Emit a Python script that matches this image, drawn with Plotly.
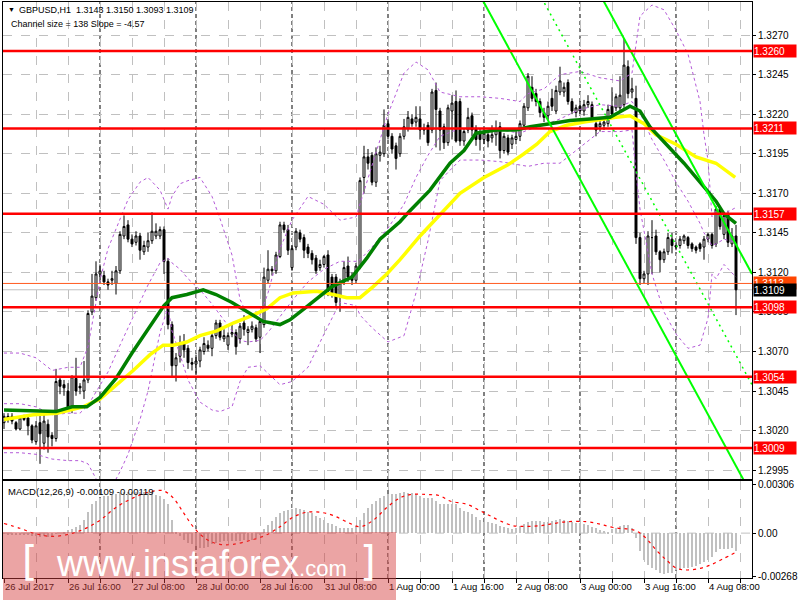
import plotly.graph_objects as go

# ---------------- DATA ----------------
opens = [1.3025,1.3029,1.3029,1.3025,1.3021,1.3029,1.3028,1.3023,1.3013,1.3025,
1.3012,1.3024,1.3017,1.3015,1.3052,1.3049,1.3045,1.3033,1.3053,1.3048,
1.3045,1.3052,1.3095,1.3104,1.3119,1.3118,1.3114,1.3115,1.3113,1.3121,
1.3143,1.3150,1.3141,1.3139,1.3143,1.3133,1.3136,1.3140,1.3143,1.3143,
1.3147,1.3127,1.3087,1.3061,1.3067,1.3075,1.3072,1.3063,1.3062,1.3064,
1.3070,1.3074,1.3072,1.3080,1.3088,1.3078,1.3074,1.3081,1.3082,1.3078,
1.3088,1.3082,1.3084,1.3085,1.3079,1.3087,1.3115,1.3122,1.3121,1.3130,
1.3150,1.3147,1.3123,1.3136,1.3145,1.3142,1.3136,1.3132,1.3129,1.3123,
1.3125,1.3131,1.3117,1.3117,1.3105,1.3114,1.3124,1.3118,1.3115,1.3124,
1.3180,1.3193,1.3194,1.3177,1.3194,1.3195,1.3214,1.3206,1.3200,1.3195,
1.3206,1.3211,1.3217,1.3215,1.3217,1.3211,1.3213,1.3210,1.3235,1.3222,
1.3212,1.3202,1.3222,1.3228,1.3228,1.3203,1.3210,1.3219,1.3211,1.3209,
1.3204,1.3207,1.3205,1.3207,1.3212,1.3197,1.3205,1.3201,1.3204,1.3206,
1.3213,1.3224,1.3237,1.3233,1.3228,1.3221,1.3219,1.3230,1.3222,1.3234,
1.3234,1.3240,1.3228,1.3221,1.3225,1.3222,1.3226,1.3226,1.3214,1.3212,
1.3213,1.3214,1.3225,1.3224,1.3224,1.3226,1.3250,1.3234,1.3230,1.3142,
1.3116,1.3119,1.3142,1.3143,1.3133,1.3128,1.3133,1.3141,1.3137,1.3137,
1.3140,1.3142,1.3138,1.3136,1.3138,1.3136,1.3141,1.3144,1.3138,1.3160,
1.3144,1.3157,1.3138,1.3143]
highs = [1.3031,1.3031,1.3031,1.3026,1.3029,1.3030,1.3029,1.3024,1.3026,1.3030,
1.3031,1.3027,1.3019,1.3059,1.3054,1.3052,1.3050,1.3055,1.3066,1.3050,
1.3064,1.3096,1.3119,1.3127,1.3125,1.3121,1.3116,1.3121,1.3124,1.3146,
1.3156,1.3153,1.3144,1.3146,1.3145,1.3140,1.3145,1.3158,1.3151,1.3149,
1.3149,1.3129,1.3089,1.3069,1.3080,1.3081,1.3074,1.3066,1.3068,1.3073,
1.3079,1.3077,1.3082,1.3090,1.3090,1.3084,1.3082,1.3087,1.3084,1.3088,
1.3093,1.3086,1.3089,1.3087,1.3091,1.3123,1.3134,1.3124,1.3133,1.3152,
1.3152,1.3150,1.3137,1.3148,1.3147,1.3144,1.3138,1.3134,1.3131,1.3128,
1.3131,1.3134,1.3119,1.3119,1.3116,1.3127,1.3130,1.3120,1.3126,1.3180,
1.3200,1.3198,1.3196,1.3199,1.3200,1.3223,1.3216,1.3208,1.3202,1.3208,
1.3217,1.3222,1.3220,1.3225,1.3225,1.3214,1.3215,1.3236,1.3240,1.3224,
1.3214,1.3226,1.3232,1.3235,1.3230,1.3211,1.3224,1.3221,1.3213,1.3211,
1.3211,1.3209,1.3213,1.3216,1.3215,1.3208,1.3207,1.3207,1.3209,1.3216,
1.3227,1.3246,1.3244,1.3236,1.3230,1.3224,1.3228,1.3236,1.3238,1.3250,
1.3240,1.3242,1.3230,1.3226,1.3228,1.3229,1.3232,1.3228,1.3216,1.3217,
1.3218,1.3226,1.3237,1.3233,1.3244,1.3268,1.3254,1.3243,1.3238,1.3145,
1.3121,1.3146,1.3153,1.3147,1.3134,1.3135,1.3145,1.3145,1.3139,1.3143,
1.3144,1.3143,1.3139,1.3137,1.3139,1.3143,1.3145,1.3145,1.3162,1.3162,
1.3158,1.3159,1.3148,1.3150]
lows = [1.3021,1.3025,1.3024,1.3020,1.3020,1.3026,1.3017,1.3012,1.3011,1.2999,
1.3008,1.3006,1.3010,1.3013,1.3043,1.3042,1.3033,1.3031,1.3042,1.3043,
1.3040,1.3050,1.3093,1.3102,1.3115,1.3112,1.3109,1.3112,1.3106,1.3119,
1.3141,1.3139,1.3136,1.3137,1.3128,1.3131,1.3133,1.3138,1.3141,1.3141,
1.3119,1.3084,1.3054,1.3051,1.3063,1.3066,1.3059,1.3058,1.3056,1.3060,
1.3068,1.3070,1.3067,1.3078,1.3077,1.3076,1.3071,1.3079,1.3068,1.3075,
1.3080,1.3074,1.3082,1.3076,1.3069,1.3085,1.3113,1.3118,1.3119,1.3129,
1.3145,1.3131,1.3121,1.3134,1.3139,1.3129,1.3129,1.3125,1.3119,1.3121,
1.3123,1.3105,1.3104,1.3098,1.3095,1.3112,1.3114,1.3112,1.3113,1.3122,
1.3170,1.3185,1.3175,1.3174,1.3190,1.3193,1.3204,1.3195,1.3185,1.3193,
1.3204,1.3209,1.3212,1.3212,1.3204,1.3207,1.3200,1.3208,1.3199,1.3197,
1.3198,1.3200,1.3204,1.3202,1.3200,1.3200,1.3208,1.3206,1.3200,1.3197,
1.3201,1.3199,1.3202,1.3200,1.3192,1.3195,1.3194,1.3198,1.3201,1.3203,
1.3211,1.3222,1.3228,1.3225,1.3218,1.3215,1.3216,1.3222,1.3220,1.3232,
1.3231,1.3226,1.3220,1.3218,1.3220,1.3219,1.3224,1.3215,1.3206,1.3209,
1.3210,1.3212,1.3218,1.3222,1.3222,1.3224,1.3230,1.3230,1.3138,1.3112,
1.3113,1.3112,1.3119,1.3131,1.3120,1.3126,1.3131,1.3132,1.3134,1.3135,
1.3138,1.3135,1.3133,1.3132,1.3133,1.3128,1.3139,1.3135,1.3136,1.3147,
1.3141,1.3136,1.3136,1.3093]
closes = [1.3029,1.3027,1.3026,1.3021,1.3028,1.3027,1.3023,1.3014,1.3023,1.3018,
1.3026,1.3016,1.3015,1.3051,1.3048,1.3047,1.3035,1.3054,1.3045,1.3047,
1.3052,1.3094,1.3105,1.3119,1.3121,1.3114,1.3112,1.3116,1.3121,1.3144,
1.3149,1.3141,1.3138,1.3143,1.3134,1.3137,1.3140,1.3146,1.3146,1.3147,
1.3127,1.3087,1.3061,1.3066,1.3075,1.3071,1.3063,1.3062,1.3064,1.3071,
1.3075,1.3072,1.3080,1.3088,1.3079,1.3080,1.3080,1.3082,1.3073,1.3086,
1.3084,1.3084,1.3086,1.3078,1.3089,1.3117,1.3122,1.3121,1.3131,1.3150,
1.3147,1.3134,1.3135,1.3146,1.3141,1.3134,1.3132,1.3128,1.3121,1.3125,
1.3130,1.3108,1.3107,1.3101,1.3114,1.3123,1.3117,1.3115,1.3124,1.3178,
1.3193,1.3189,1.3177,1.3195,1.3196,1.3213,1.3206,1.3198,1.3192,1.3206,
1.3212,1.3218,1.3214,1.3218,1.3210,1.3210,1.3202,1.3234,1.3223,1.3210,
1.3202,1.3224,1.3227,1.3203,1.3203,1.3209,1.3218,1.3210,1.3204,1.3204,
1.3208,1.3203,1.3207,1.3210,1.3197,1.3206,1.3196,1.3205,1.3206,1.3214,
1.3225,1.3244,1.3230,1.3228,1.3221,1.3218,1.3225,1.3225,1.3235,1.3241,
1.3237,1.3228,1.3222,1.3224,1.3222,1.3226,1.3228,1.3218,1.3210,1.3214,
1.3215,1.3223,1.3220,1.3231,1.3232,1.3251,1.3233,1.3236,1.3142,1.3116,
1.3119,1.3143,1.3142,1.3133,1.3128,1.3133,1.3142,1.3137,1.3136,1.3141,
1.3143,1.3137,1.3135,1.3134,1.3135,1.3141,1.3144,1.3137,1.3160,1.3149,
1.3156,1.3139,1.3143,1.3109]

# moving averages (bar index, price)
ma_green_x = [0,10,13,17,20.7,24,28,32,36.5,40,42,45.7,49.8,53,57,60.7,64.8,69,71.5,75,79,82,87,90.7,94,99,
              101.5,106.5,111.5,115,118,123,128,131.5,136.5,141.5,146.5,151.5,156.5,159,161.5,165.7,170,175,178,180,183]
ma_green_y = [1.3033,1.3032,1.3032,1.3035,1.3035,1.3041,1.3053,1.3069,1.3086,1.3099,1.3104,1.3106,1.3109,1.3106,1.3101,
              1.3095,1.3089,1.3087,1.3090,1.3097,1.3105,1.3111,1.3117,1.3129,1.3141,1.3152,
              1.3159,1.3172,1.3189,1.3197,1.3208,1.3210,1.3210,1.3212,1.3214,1.3216,1.3217,1.3218,1.3225,1.3222,
              1.3212,1.3201,1.3189,1.3174,1.3165,1.3157,1.3151]
ma_yellow_x = [0,7.3,13.2,19.8,24,28.2,32.3,36.5,39.8,42.3,45.7,49,53.2,57.3,62.3,65.7,69,72.3,78.2,82.3,85.7,89,
               92.3,95.7,99,104,110,114,120,126,130,133.2,136.5,140.7,145,150,153,156.5,160,163,168,173,178,182.8]
ma_yellow_y = [1.3027,1.3030,1.3031,1.3035,1.3040,1.3049,1.3058,1.3068,1.3074,1.3074,1.3076,1.3080,1.3083,1.3088,
               1.3093,1.3097,1.3104,1.3107,1.3108,1.3106,1.3104,1.3104,1.3111,1.3119,1.3128,1.3143,1.3159,1.3170,
               1.3180,1.3188,1.3195,1.3201,1.3209,1.3213,1.3215,1.3217,1.3218,1.3219,1.3214,1.3207,1.3201,1.3193,
               1.3189,1.3180]

# Bollinger bands (bar index, upper / middle / lower)
bb_x = [0,4,8,12,16,19,21,24,26,29,31,34,36,39,41,42,44,46,49,52,54,57,59,61,64,66,69,72,76,80,84,88,89,92,96,
        100,103,106,109,114,119,124,129,131,135,139,144,149,154,157,158,159,162,165,168,171,174,175,176,177,178,180,183]
bb_upper = [1.3069,1.3069,1.3066,1.3058,1.3060,1.3060,1.3073,1.3115,1.3135,1.3154,1.3166,1.3177,1.3180,1.3172,1.3160,
            1.3168,1.3176,1.3178,1.3180,1.3168,1.3154,1.3131,1.3103,1.3092,1.3093,1.3107,1.3135,1.3153,1.3168,1.3163,
            1.3153,1.3155,1.3163,1.3187,1.3220,1.3246,1.3253,1.3248,1.3234,1.3231,1.3231,1.3230,1.3228,1.3233,1.3236,
            1.3245,1.3247,1.3243,1.3241,1.3246,1.3265,1.3282,1.3289,1.3286,1.3273,1.3258,1.3228,1.3207,1.3191,1.3155,
            1.3160,1.3157,1.3161]
bb_mid = [1.3037,1.3037,1.3035,1.3030,1.3031,1.3031,1.3036,1.3049,1.3057,1.3074,1.3085,1.3102,1.3112,1.3126,1.3129,
          1.3126,1.3122,1.3116,1.3109,1.3100,1.3093,1.3083,1.3077,1.3076,1.3077,1.3082,1.3092,1.3102,1.3114,1.3122,
          1.3127,1.3127,1.3128,1.3136,1.3148,1.3163,1.3180,1.3194,1.3206,1.3211,1.3211,1.3210,1.3208,1.3210,1.3213,
          1.3217,1.3223,1.3226,1.3225,1.3228,1.3224,1.3221,1.3204,1.3191,1.3177,1.3165,1.3151,1.3145,1.3141,1.3137,
          1.3138,1.3141,1.3139]
bb_lower = [1.3006,1.3006,1.3005,1.3002,1.3001,1.3001,1.2999,1.2985,1.2980,1.2994,1.3005,1.3027,1.3045,1.3082,1.3098,
            1.3083,1.3068,1.3052,1.3038,1.3033,1.3032,1.3035,1.3051,1.3060,1.3061,1.3056,1.3049,1.3051,1.3060,1.3081,
            1.3101,1.3099,1.3093,1.3085,1.3076,1.3080,1.3107,1.3140,1.3178,1.3191,1.3191,1.3190,1.3188,1.3187,1.3189,
            1.3189,1.3199,1.3209,1.3209,1.3210,1.3183,1.3160,1.3119,1.3095,1.3081,1.3072,1.3074,1.3083,1.3091,1.3119,
            1.3116,1.3125,1.3117]

# regression channel (bar index, price)
chan_x = [100, 187]
chan_lower = [1.33835, 1.29790]
chan_mid = [1.34535, 1.30490]
chan_upper = [1.35235, 1.31190]

levels = [1.3260, 1.3211, 1.3157, 1.3098, 1.3054, 1.3009]
ask_level = 1.3113
bid_level = 1.3109

macd_hist = [-0.00005,-0.00006,-0.00006,-0.00008,-0.00007,-0.00008,-0.00010,-0.00015,-0.00018,-0.00022,
-0.00020,-0.00024,-0.00025,-0.00004,0.00000,0.00003,0.00020,0.00024,0.00036,0.00050,
0.00080,0.00130,0.00180,0.00200,0.00220,0.00230,0.00231,0.00240,0.00244,0.00250,
0.00255,0.00256,0.00257,0.00257,0.00256,0.00256,0.00255,0.00255,0.00240,0.00230,
0.00210,0.00180,0.00080,0.00010,-0.00020,-0.00040,-0.00060,-0.00070,-0.00080,-0.00090,
-0.00090,-0.00086,-0.00070,-0.00060,-0.00058,-0.00050,-0.00050,-0.00049,-0.00048,-0.00047,
-0.00046,-0.00046,-0.00045,-0.00030,-0.00010,0.00025,0.00050,0.00077,0.00100,0.00127,
0.00140,0.00144,0.00148,0.00154,0.00150,0.00144,0.00133,0.00123,0.00106,0.00092,
0.00081,0.00065,0.00054,0.00044,0.00035,0.00033,0.00029,0.00029,0.00044,0.00081,
0.00123,0.00154,0.00181,0.00200,0.00216,0.00230,0.00243,0.00243,0.00243,0.00250,
0.00254,0.00250,0.00250,0.00243,0.00233,0.00222,0.00222,0.00216,0.00202,0.00180,
0.00180,0.00180,0.00180,0.00180,0.00154,0.00140,0.00129,0.00119,0.00098,0.00083,
0.00071,0.00067,0.00060,0.00056,0.00042,0.00036,0.00030,0.00025,0.00030,0.00042,
0.00056,0.00071,0.00075,0.00075,0.00075,0.00067,0.00071,0.00077,0.00081,0.00087,
0.00081,0.00075,0.00067,0.00064,0.00060,0.00056,0.00052,0.00037,0.00030,0.00020,
0.00015,0.00010,0.00025,0.00030,0.00042,0.00050,0.00050,0.00030,-0.00028,-0.00110,
-0.00170,-0.00200,-0.00220,-0.00230,-0.00250,-0.00252,-0.00250,-0.00250,-0.00230,-0.00225,
-0.00220,-0.00215,-0.00210,-0.00205,-0.00190,-0.00180,-0.00170,-0.00150,-0.00120,-0.00100,
-0.00100,-0.00100,-0.00090,-0.00109]
signal_x = [0,4,7.3,11.5,15.7,19.8,24,28,32.3,36.5,39.8,42.3,44.8,47.3,50.7,54,57.3,62.3,65.7,69,72.3,75.7,79,
            82.3,85.7,89,92.3,95.7,99,101.5,106.5,109,111.5,115.7,119,121.5,124,127.3,130.7,134,136.5,140.7,
            145.7,149,152.3,157.3,159,160.7,163.2,165.7,168.2,170.7,174,176.5,179.8,183]
signal_y = [0.0006,0.0003,0.0,-0.0002,-0.0001,0.00023,0.0008,0.0016,0.0022,0.00258,0.00264,0.0022,0.0013,0.0004,
            -0.0004,-0.0007,-0.0007,-0.0004,-0.0001,0.0004,0.0010,0.0013,0.0013,0.0011,0.0007,0.0004,0.0008,0.0016,
            0.0022,0.0024,0.0024,0.00233,0.0020,0.0018,0.0014,0.00108,0.00077,0.00046,0.00042,0.00046,0.00056,
            0.00071,0.00071,0.00056,0.00035,0.0002,0.0,-0.00037,-0.0011,-0.0017,-0.0022,-0.0023,-0.0022,-0.0020,
            -0.0016,-0.00119]

tick_bars = [0,16,32,48,64,80,96,112,128,144,160,176]
tick_text = ["26 Jul 2017","26 Jul 16:00","27 Jul 08:00","28 Jul 00:00","28 Jul 16:00","31 Jul 08:00",
             "1 Aug 00:00","1 Aug 16:00","2 Aug 08:00","3 Aug 00:00","3 Aug 16:00","4 Aug 08:00"]
day_sep = [24,48,72,96,120,144,168]
price_ticks = [1.3270,1.3245,1.3220,1.3195,1.3170,1.3145,1.3120,1.3095,1.3070,1.3045,1.3020,1.2995]

# ---------------- FIGURE ----------------
FONT = "Liberation Sans"
bars = list(range(len(closes)))
fig = go.Figure()

fig.add_trace(go.Candlestick(x=bars, open=opens, high=highs, low=lows, close=closes,
    increasing=dict(line=dict(color="black", width=1), fillcolor="white"),
    decreasing=dict(line=dict(color="black", width=1), fillcolor="black"),
    whiskerwidth=0, xaxis="x", yaxis="y", hoverinfo="skip"))

dotp = "3px,3px"
for band in (bb_upper, bb_mid, bb_lower):
    fig.add_trace(go.Scatter(x=bb_x, y=band, mode="lines",
                             line=dict(color="#B45AD8", width=1, dash=dotp), xaxis="x", yaxis="y"))

fig.add_trace(go.Scatter(x=ma_yellow_x, y=ma_yellow_y, mode="lines", line=dict(color="#FFFF00", width=3.5), xaxis="x", yaxis="y"))
fig.add_trace(go.Scatter(x=ma_green_x, y=ma_green_y, mode="lines", line=dict(color="#008000", width=3.5), xaxis="x", yaxis="y"))

fig.add_trace(go.Scatter(x=chan_x, y=chan_lower, mode="lines", line=dict(color="#00FF00", width=2), xaxis="x", yaxis="y"))
fig.add_trace(go.Scatter(x=chan_x, y=chan_upper, mode="lines", line=dict(color="#00FF00", width=2), xaxis="x", yaxis="y"))
fig.add_trace(go.Scatter(x=chan_x, y=chan_mid, mode="lines", line=dict(color="#00FF00", width=1.5, dash="2px,4px"), xaxis="x", yaxis="y"))

# levels
for lv in levels:
    fig.add_shape(type="line", xref="x domain", yref="y", x0=0, x1=1, y0=lv, y1=lv,
                  line=dict(color="#FF0000", width=2.5), layer="above")
fig.add_shape(type="line", xref="x domain", yref="y", x0=0, x1=1, y0=ask_level, y1=ask_level,
              line=dict(color="#FF5A1F", width=1), layer="above")
fig.add_shape(type="line", xref="x domain", yref="y", x0=0, x1=1, y0=bid_level, y1=bid_level,
              line=dict(color="#C0C0C0", width=1), layer="below")

# MACD
fig.add_trace(go.Bar(x=bars, y=macd_hist, marker=dict(color="#C0C0C0", line=dict(width=0)), width=0.65,
                     xaxis="x2", yaxis="y2"))
fig.add_trace(go.Scatter(x=signal_x, y=signal_y, mode="lines", line=dict(color="#FF0000", width=1.2, dash="3px,4px", shape="spline"),
                         xaxis="x2", yaxis="y2"))

# day separators
for d in day_sep:
    fig.add_shape(type="line", xref="x", yref="paper", x0=d, x1=d, y0=0, y1=1,
                  line=dict(color="black", width=1, dash="4px,3px"), layer="below")

xr = [-0.25, 187]
main_top = 1.32909
main_bot = 1.29894
grid = dict(showgrid=True, gridcolor="#C0C0C0", griddash="dash", gridwidth=1)
fig.update_layout(
    width=800, height=600, margin=dict(l=3, r=48, t=2, b=22, autoexpand=False),
    paper_bgcolor="white", plot_bgcolor="white", showlegend=False,
    font=dict(family=FONT, size=10, color="black"),
    bargap=0,
    xaxis=dict(domain=[0, 1], range=xr, anchor="y", tickvals=list(range(0, 188, 8)), showticklabels=False,
               ticks="", showline=True, linecolor="black", mirror=True, rangeslider=dict(visible=False),
               zeroline=False, **grid),
    yaxis=dict(domain=[0.1719, 1], range=[main_bot, main_top], side="right", tickvals=price_ticks,
               tickformat=".4f", ticks="outside", ticklen=3, tickcolor="black", showline=True, linecolor="black",
               mirror=True, zeroline=False, tickfont=dict(size=10), automargin=False, **grid),
    xaxis2=dict(domain=[0, 1], range=xr, anchor="y2", tickvals=list(range(0, 188, 8)),
                ticktext=[(tick_text[tick_bars.index(v)] if v in tick_bars else "") for v in range(0, 188, 8)],
                ticklabelposition="outside right", ticks="outside", ticklen=4, tickcolor="black",
                showline=True, linecolor="black", mirror=True, zeroline=False, tickfont=dict(size=9.5),
                automargin=False, **grid),
    yaxis2=dict(domain=[0, 0.1684], range=[-0.00280, 0.00325], side="right", tickvals=[0.00306, 0.0, -0.00268],
                ticktext=["0.00306", "0.00", "-0.00268"], ticks="outside", ticklen=3, tickcolor="black",
                showline=True, linecolor="black", mirror=True, zeroline=False, tickfont=dict(size=10),
                showgrid=False, automargin=False),
)
# zero line of MACD
fig.add_shape(type="line", xref="x2 domain", yref="y2", x0=0, x1=1, y0=0, y1=0,
              line=dict(color="#C0C0C0", width=1, dash="dash"), layer="below")

def px2x(p):
    return (p - 3) / 749.0

def py2y(p):
    return (578 - p) / 576.0

# right axis level boxes
def box(val, bg, fg="white"):
    fig.add_annotation(x=1, xref="paper", xanchor="left", xshift=1, y=val, yref="y", yanchor="middle",
                       text=f"{val:.4f}", showarrow=False, bgcolor=bg, font=dict(color=fg, size=10),
                       width=42, height=12, align="left", borderpad=0)

for lv in levels:
    box(lv, "#FF0000")
box(ask_level, "#FF4500")
box(bid_level, "#000000")

# title texts
fig.add_annotation(x=px2x(6), y=py2y(10), xref="paper", yref="paper", xanchor="left", yanchor="middle",
                   text="▼", showarrow=False, font=dict(size=7, color="black"))
fig.add_annotation(x=px2x(17), y=py2y(10), xref="paper", yref="paper", xanchor="left", yanchor="middle",
                   text="GBPUSD,H1  1.3143 1.3150 1.3093 1.3109", showarrow=False, font=dict(size=9))
fig.add_annotation(x=px2x(9), y=py2y(24), xref="paper", yref="paper", xanchor="left", yanchor="middle",
                   text="Channel size = 138 Slope = -4.57", showarrow=False, font=dict(size=9))
fig.add_annotation(x=px2x(6), y=py2y(491), xref="paper", yref="paper", xanchor="left", yanchor="middle",
                   text="MACD(12,26,9) -0.00109 -0.00119", showarrow=False, font=dict(size=9.5))

# watermark
fig.add_shape(type="rect", xref="paper", yref="paper", x0=px2x(3), x1=px2x(396), y0=py2y(600), y1=py2y(532),
              fillcolor="rgba(212,62,62,0.47)", line=dict(width=0), layer="above")
fig.add_annotation(x=px2x(30), y=py2y(561), xref="paper", yref="paper", xanchor="center", yanchor="middle",
                   text="[", showarrow=False, font=dict(size=40, color="white", family="DejaVu Sans"))
fig.add_annotation(x=px2x(368), y=py2y(561), xref="paper", yref="paper", xanchor="center", yanchor="middle",
                   text="]", showarrow=False, font=dict(size=40, color="white", family="DejaVu Sans"))
fig.add_annotation(x=px2x(54), y=py2y(563), xref="paper", yref="paper", xanchor="left", yanchor="middle",
                   text="www.instaforex<span style='font-size:22px'>.com</span>", showarrow=False,
                   font=dict(size=36, color="white", family=FONT))

fig.write_html("out.html", config={"displayModeBar": False},
               post_script="document.body.style.margin='0px';document.body.style.overflow='hidden';")
